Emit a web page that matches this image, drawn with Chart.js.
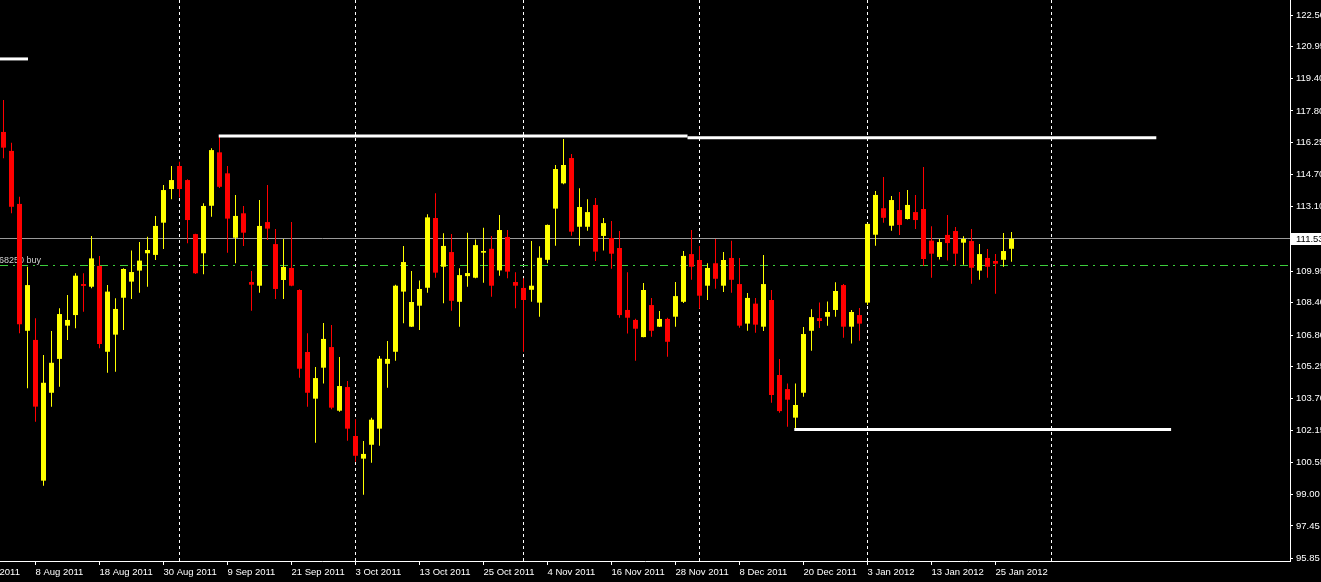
<!DOCTYPE html>
<html>
<head>
<meta charset="utf-8">
<title>Daily candles Aug 2011 - Jan 2012</title>
<script src="https://cdn.jsdelivr.net/npm/chart.js@4.4.1/dist/chart.umd.min.js"></script>
<style>
    html, body { margin: 0; padding: 0; background: #000; overflow: hidden; }
    #wrap { width: 1321px; height: 582px; }
</style>
</head>
<body>
<div id="wrap"><canvas id="chart" width="1321" height="582"></canvas></div>
<script>
// daily bars, index 0 = 2 Aug 2011 ... 126 = 27 Jan 2012
const opens = [
    116.77, 115.84, 113.24, 107.02, 106.57, 99.67, 103.98, 105.64, 107.27, 107.79,
    109.31, 109.18, 110.20, 105.99, 106.83, 108.64, 109.43, 109.97, 110.82, 110.74,
    112.32, 113.97, 115.10, 114.41, 111.76, 110.82, 113.15, 115.77, 114.74, 111.58,
    112.78, 109.41, 109.23, 112.35, 111.27, 109.51, 110.10, 109.02, 105.98, 103.69,
    105.21, 106.22, 103.10, 104.26, 101.86, 100.75, 101.43, 102.22, 105.40, 105.99,
    108.94, 107.22, 108.25, 109.13, 112.55, 110.16, 110.88, 108.44, 109.70, 109.62,
    110.85, 111.04, 109.98, 111.62, 109.41, 109.12, 109.03, 108.40, 110.50, 113.01,
    114.25, 115.49, 112.12, 112.12, 113.19, 111.67, 111.57, 111.08, 108.04, 107.55,
    106.71, 108.28, 107.22, 107.60, 107.71, 108.44, 110.78, 110.49, 109.23, 110.33,
    109.23, 110.59, 109.31, 107.37, 108.35, 107.22, 108.53, 104.85, 104.16, 102.76,
    103.98, 107.02, 107.64, 107.71, 108.04, 109.26, 107.22, 107.79, 108.40, 111.73,
    113.03, 112.17, 112.94, 112.50, 112.84, 112.99, 111.44, 110.64, 111.72, 111.91,
    111.34, 111.42, 109.97, 110.59, 110.44, 110.50, 111.04
];
const highs = [
    118.34, 116.24, 113.59, 110.16, 107.63, 105.83, 107.01, 108.12, 108.77, 109.84,
    109.84, 111.67, 110.69, 109.26, 108.61, 110.08, 110.95, 111.37, 111.63, 112.65,
    114.17, 115.10, 115.31, 114.45, 111.78, 113.27, 115.97, 116.57, 115.10, 113.68,
    113.14, 109.95, 113.43, 114.17, 112.01, 111.52, 112.35, 109.05, 106.90, 105.24,
    107.40, 107.30, 105.73, 104.56, 102.68, 101.61, 102.76, 105.78, 106.52, 109.28,
    111.18, 109.95, 109.49, 112.73, 113.76, 111.80, 111.76, 110.08, 111.83, 111.50,
    112.07, 111.67, 112.70, 111.96, 109.89, 109.59, 111.42, 111.16, 112.23, 115.15,
    116.42, 115.69, 114.01, 113.47, 113.53, 112.55, 112.40, 111.91, 109.89, 107.61,
    109.36, 108.63, 107.99, 107.66, 109.41, 110.93, 111.96, 111.18, 110.33, 111.52,
    110.88, 111.44, 110.59, 108.87, 108.63, 110.73, 109.02, 105.64, 104.44, 104.44,
    107.20, 108.07, 108.41, 108.46, 109.40, 109.31, 108.04, 108.14, 112.28, 113.87,
    114.56, 113.63, 113.82, 113.92, 113.68, 115.05, 112.14, 111.52, 112.70, 112.11,
    111.65, 112.01, 111.27, 111.03, 110.78, 111.81, 111.86
];
const lows = [
    115.48, 112.78, 106.90, 104.20, 102.56, 99.42, 103.30, 104.28, 106.57, 107.14,
    107.95, 109.10, 106.16, 104.96, 105.01, 107.06, 108.58, 108.89, 109.18, 110.49,
    111.03, 113.47, 113.56, 111.31, 109.80, 109.79, 112.61, 114.02, 110.85, 110.33,
    111.18, 108.00, 108.89, 111.47, 108.58, 108.58, 109.20, 104.72, 103.30, 101.53,
    104.44, 103.17, 103.05, 101.63, 100.60, 98.98, 100.55, 101.38, 104.23, 105.55,
    107.39, 107.20, 107.06, 108.89, 109.62, 108.37, 108.00, 107.22, 109.18, 109.59,
    109.38, 108.69, 109.72, 109.59, 108.12, 105.99, 108.44, 107.71, 110.33, 111.19,
    114.20, 111.68, 111.19, 111.93, 110.44, 110.95, 110.06, 107.66, 106.88, 105.55,
    106.70, 106.73, 107.20, 105.75, 107.22, 108.38, 109.52, 108.10, 108.53, 109.08,
    108.92, 108.89, 107.17, 107.02, 106.92, 107.01, 103.49, 103.00, 102.31, 102.19,
    103.79, 106.04, 107.15, 107.27, 107.71, 106.68, 106.40, 106.53, 108.28, 111.19,
    112.32, 111.93, 111.72, 112.48, 112.01, 110.20, 109.62, 110.52, 110.46, 110.21,
    110.26, 109.33, 109.52, 109.62, 108.84, 110.16, 110.41
];
const closes = [
    116.00, 113.10, 107.34, 109.26, 103.30, 104.47, 105.45, 107.84, 107.55, 109.72,
    109.22, 110.57, 106.37, 108.94, 108.09, 110.05, 109.90, 110.46, 110.98, 112.16,
    113.92, 114.41, 113.97, 112.45, 109.84, 113.14, 115.88, 114.08, 112.52, 112.65,
    111.83, 109.28, 112.16, 112.03, 109.07, 110.15, 109.23, 105.16, 103.98, 104.70,
    106.62, 103.25, 104.31, 102.22, 100.89, 100.98, 102.66, 105.65, 105.64, 109.23,
    110.39, 108.43, 109.07, 112.58, 109.87, 111.18, 108.49, 109.75, 109.85, 111.22,
    110.93, 109.23, 111.96, 109.92, 109.23, 108.53, 109.23, 110.60, 112.21, 114.95,
    115.15, 111.88, 113.09, 112.84, 110.90, 112.30, 110.80, 107.79, 107.66, 107.12,
    109.02, 107.02, 107.60, 106.48, 108.72, 110.69, 110.16, 108.74, 110.10, 109.57,
    110.49, 109.52, 107.27, 108.63, 107.32, 109.31, 103.87, 103.08, 103.64, 103.38,
    106.86, 107.69, 107.50, 107.94, 108.97, 107.22, 107.94, 107.37, 112.26, 113.68,
    112.56, 113.43, 112.21, 113.19, 112.45, 110.54, 110.80, 111.37, 111.32, 110.80,
    111.52, 110.11, 110.78, 110.16, 110.31, 110.93, 111.53
];

// x axis labels every 8 bars (bar index -> text)
const dateTickIndex = [-4, 4, 12, 20, 28, 36, 44, 52, 60, 68, 76, 84, 92, 100, 108, 116, 124];
const dateTickLabels = [
    '27 Jul 2011', '8 Aug 2011', '18 Aug 2011', '30 Aug 2011', '9 Sep 2011', '21 Sep 2011',
    '3 Oct 2011', '13 Oct 2011', '25 Oct 2011', '4 Nov 2011', '16 Nov 2011', '28 Nov 2011',
    '8 Dec 2011', '20 Dec 2011', '3 Jan 2012', '13 Jan 2012', '25 Jan 2012'
];
const priceTicks = [
    122.50, 120.95, 119.40, 117.80, 116.25, 114.70, 113.10, 109.95, 108.40,
    106.80, 105.25, 103.70, 102.15, 100.55, 99.00, 97.45, 95.85
];
// first bar of each month (period separators)
const monthStarts = [22, 44, 65, 87, 108, 131];

const bidPrice = 111.53;
const orderPrice = 110.20;
const orderText = '#11068250 buy';

// drawn horizontal levels: [bar index, price]
const levelLeft = [[-0.44, 120.35], [3.06, 120.35]];
const resistanceA = [[26.9, 116.57], [85.5, 116.57]];
const resistanceB = [[85.5, 116.49], [144.1, 116.49]];
const supportLevel = [[98.85, 102.18], [145.95, 102.18]];

const BULL = '#ffff00';
const BEAR = '#ff0000';
const AXIS_FONT = { family: 'Liberation Sans, Arial, sans-serif', size: 9.5 };

const candleColors = closes.map((c, i) => (c >= opens[i] ? BULL : BEAR));
const bodyData = opens.map((o, i) => ({ x: i, y: [o, closes[i]] }));
const wickData = lows.map((l, i) => ({ x: i, y: [l, highs[i]] }));

function levelDataset(points) {
    return {
        type: 'line',
        data: points.map(([x, y]) => ({ x, y })),
        borderColor: '#ffffff',
        borderWidth: 3,
        pointRadius: 0,
        tension: 0,
        fill: false,
        order: 0
    };
}

const overlayPlugin = {
    id: 'overlay',
    beforeDatasetsDraw(chart) {
        const { ctx, chartArea, scales } = chart;
        const x = scales.x;
        const y = scales.y;

        ctx.save();
        ctx.beginPath();
        ctx.rect(chartArea.left, chartArea.top, chartArea.right - chartArea.left, chartArea.bottom - chartArea.top);
        ctx.clip();

        ctx.strokeStyle = '#ffffff';
        ctx.lineWidth = 1;
        ctx.setLineDash([3, 3]);
        monthStarts.forEach((v) => {
            const px = Math.floor(x.getPixelForValue(v)) + 0.5;
            ctx.beginPath();
            ctx.moveTo(px, chartArea.top);
            ctx.lineTo(px, chartArea.bottom);
            ctx.stroke();
        });

        const bidY = Math.floor(y.getPixelForValue(bidPrice)) + 0.5;
        ctx.setLineDash([]);
        ctx.strokeStyle = '#9a9a9a';
        ctx.beginPath();
        ctx.moveTo(chartArea.left, bidY);
        ctx.lineTo(chartArea.right, bidY);
        ctx.stroke();

        const orderY = Math.floor(y.getPixelForValue(orderPrice)) + 0.5;
        ctx.strokeStyle = '#3ccf3c';
        ctx.setLineDash([8, 5, 2, 5]);
        ctx.beginPath();
        ctx.moveTo(chartArea.left, orderY);
        ctx.lineTo(chartArea.right, orderY);
        ctx.stroke();

        ctx.setLineDash([]);
        ctx.fillStyle = '#d0d0d0';
        ctx.font = '9px "Liberation Sans", Arial, sans-serif';
        ctx.textAlign = 'right';
        ctx.textBaseline = 'alphabetic';
        ctx.fillText(orderText, 41, orderY - 3);

        ctx.restore();
    },
    afterDraw(chart) {
        const { ctx, chartArea, scales } = chart;
        const bidY = scales.y.getPixelForValue(bidPrice);

        ctx.save();
        ctx.fillStyle = '#ffffff';
        ctx.fillRect(chartArea.right + 1, Math.round(bidY) - 6, 31, 12);
        ctx.fillStyle = '#000000';
        ctx.font = '9.5px "Liberation Sans", Arial, sans-serif';
        ctx.textAlign = 'left';
        ctx.textBaseline = 'middle';
        ctx.fillText(bidPrice.toFixed(2), chartArea.right + 6, Math.round(bidY) + 0.5);
        ctx.restore();
    }
};

new Chart(document.getElementById('chart'), {
    type: 'bar',
    data: {
        datasets: [
            levelDataset(levelLeft),
            levelDataset(resistanceA),
            levelDataset(resistanceB),
            levelDataset(supportLevel),
            {
                label: 'body',
                data: bodyData,
                backgroundColor: candleColors,
                barThickness: 5,
                minBarLength: 1,
                grouped: false,
                inflateAmount: 0,
                borderWidth: 0,
                order: 1
            },
            {
                label: 'wick',
                data: wickData,
                backgroundColor: candleColors,
                barThickness: 1,
                grouped: false,
                inflateAmount: 0,
                borderWidth: 0,
                order: 2
            }
        ]
    },
    options: {
        responsive: false,
        animation: false,
        events: [],
        layout: { padding: 0 },
        plugins: {
            legend: { display: false },
            tooltip: { enabled: false }
        },
        scales: {
            x: {
                type: 'linear',
                offset: false,
                min: -0.4375,
                max: 160.8125,
                afterBuildTicks: (s) => { s.ticks = dateTickIndex.map((v) => ({ value: v })); },
                afterFit: (s) => { s.height = 21; s.paddingLeft = 0; s.paddingRight = 0; },
                grid: { drawOnChartArea: false, offset: false, color: '#ffffff', tickLength: 4 },
                border: { color: '#ffffff' },
                ticks: {
                    color: '#ffffff',
                    font: AXIS_FONT,
                    align: 'start',
                    padding: 2,
                    autoSkip: false,
                    maxRotation: 0,
                    callback: (v) => {
                        const k = dateTickIndex.indexOf(v);
                        return k >= 0 ? dateTickLabels[k] : '';
                    }
                }
            },
            y: {
                type: 'linear',
                position: 'right',
                min: 95.73,
                max: 123.24,
                afterBuildTicks: (s) => { s.ticks = priceTicks.map((v) => ({ value: v })); },
                afterFit: (s) => { s.width = 31; s.paddingTop = 0; s.paddingBottom = 0; },
                grid: { drawOnChartArea: false, color: '#ffffff', tickLength: 3 },
                border: { color: '#ffffff' },
                ticks: {
                    color: '#ffffff',
                    font: AXIS_FONT,
                    padding: 3,
                    callback: (v) => Number(v).toFixed(2)
                }
            }
        }
    },
    plugins: [overlayPlugin]
});
</script>
</body>
</html>
